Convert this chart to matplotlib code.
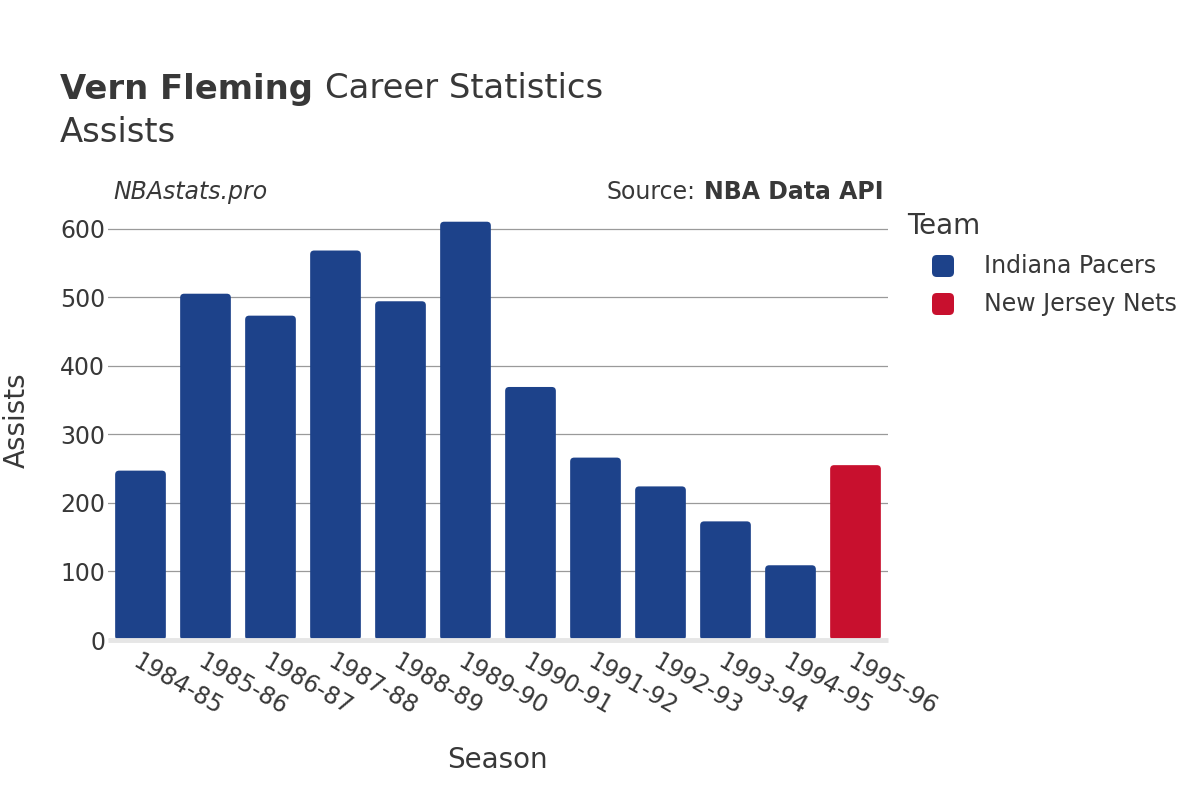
import matplotlib
matplotlib.use("Agg")
import matplotlib.pyplot as plt
from matplotlib.patches import FancyBboxPatch

seasons = ["1984-85", "1985-86", "1986-87", "1987-88", "1988-89", "1989-90",
           "1990-91", "1991-92", "1992-93", "1993-94", "1994-95", "1995-96"]
assists = [247, 505, 473, 568, 494, 610, 369, 266, 224, 173, 109, 255]
teams = ["Indiana Pacers"] * 11 + ["New Jersey Nets"]
team_names = ["Indiana Pacers", "New Jersey Nets"]
team_colors = {"Indiana Pacers": "#1D428A", "New Jersey Nets": "#C8102E"}
y_ticks = [0, 100, 200, 300, 400, 500, 600]

plt.rcParams['font.family'] = ['DejaVu Sans']
text_color = "#383838"
W, H = 1200, 800

fig = plt.figure(figsize=(12, 8), dpi=100)
ax = fig.add_axes([108 / W, 0.2, 780 / W, 0.54])

x = list(range(len(seasons)))
ymax = 630
ax.set_xlim(-0.5, len(seasons) - 0.5)
ax.set_ylim(0, ymax)

bars = ax.bar(x, assists, width=0.78, color=[team_colors[t] for t in teams])

# rounded top corners
ax_w_px = 780
ax_h_px = 0.54 * H
xu_per_px = len(seasons) / ax_w_px
yu_per_px = ymax / ax_h_px
r = 4 * xu_per_px
asp = yu_per_px / xu_per_px
for b in bars:
    bx, by = b.get_x(), b.get_y()
    bw, bh = b.get_width(), b.get_height()
    b.set_visible(False)
    p = FancyBboxPatch((bx, by), bw, bh,
                       boxstyle=f"round,pad=0,rounding_size={r}",
                       mutation_aspect=asp, facecolor=b.get_facecolor(),
                       edgecolor="none", zorder=2)
    ax.add_patch(p)

ax.set_yticks(y_ticks)
ax.yaxis.grid(True, color="#9a9a9a", linewidth=0.9)
ax.set_axisbelow(True)
for s in ["top", "right", "left"]:
    ax.spines[s].set_visible(False)
ax.spines["bottom"].set_color("#e6e6e6")
ax.spines["bottom"].set_linewidth(3.5)
ax.spines["bottom"].set_capstyle("butt")
ax.spines["bottom"].set_zorder(3)

ax.set_xticks(x)
ax.set_xticklabels(seasons, rotation=-30, ha="left", rotation_mode="anchor",
                   fontsize=17, color=text_color)
ax.tick_params(axis="x", length=0, pad=7)
ax.tick_params(axis="y", length=0, labelsize=17,
               labelcolor=text_color, pad=2)

fig.text(497 / W, 1 - 760 / H, "Season", fontsize=20, color=text_color,
         ha="center", va="center")
fig.text(17 / W, 1 - 420 / H, "Assists", fontsize=20, color=text_color,
         ha="center", va="center", rotation=90)

t1 = fig.text(60 / W, 1 - 89 / H, "Vern Fleming", fontsize=24.4,
              fontweight="bold", color=text_color, va="center")
fig.canvas.draw()
bb1 = t1.get_window_extent()
fig.text((bb1.x1 + 12) / W, 1 - 89 / H, "Career Statistics", fontsize=24.4,
         color=text_color, va="center")
fig.text(60 / W, 1 - 132 / H, "Assists", fontsize=24.4,
         color=text_color, va="center")
fig.text(113 / W, 1 - 192 / H, "NBAstats.pro", fontsize=17,
         style="italic", color=text_color, va="center")
t2 = fig.text(884 / W, 1 - 192 / H, "NBA Data API", fontsize=17,
              fontweight="bold", color=text_color, va="center", ha="right")
fig.canvas.draw()
bb = t2.get_window_extent()
fig.text((bb.x0 - 9) / W, 1 - 192 / H, "Source:", fontsize=17,
         color=text_color, va="center", ha="right")

# legend
fig.text(907 / W, 1 - 226 / H, "Team", fontsize=20, color=text_color,
         va="center")
for i, t in enumerate(team_names):
    yc = 266 + i * 38
    sq = FancyBboxPatch((932 / W, 1 - (yc + 11) / H), 22 / W, 22 / H,
                        boxstyle="round,pad=0,rounding_size=0.004",
                        mutation_aspect=W / H,
                        transform=fig.transFigure, facecolor=team_colors[t],
                        edgecolor="none")
    fig.patches.append(sq)
    fig.text(984 / W, 1 - yc / H, t, fontsize=17, color=text_color,
             va="center")

fig.savefig("out.png", dpi=100)
